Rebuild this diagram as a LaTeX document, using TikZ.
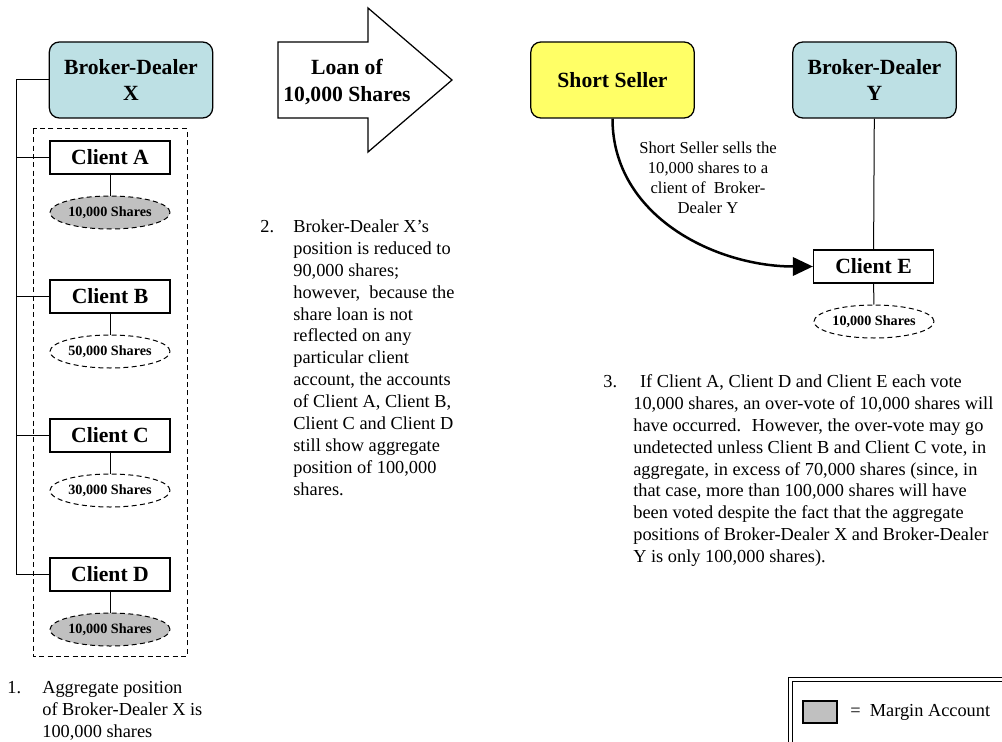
\documentclass[tikz,border=0pt]{standalone}
\usepackage{fontspec}
\setmainfont{Liberation Serif}
\usetikzlibrary{arrows.meta,shapes.geometric}
\definecolor{dealerfill}{RGB}{189,224,228}
\definecolor{sellerfill}{RGB}{255,255,102}
\definecolor{marginfill}{RGB}{192,192,192}
\tikzset{
  dealer/.style={draw, rounded corners=6pt, line width=0.75pt, minimum width=98pt,
    minimum height=45.6pt, inner sep=0pt, align=center,
    font=\fontsize{13}{16}\selectfont\bfseries},
  client/.style={draw, line width=0.75pt, fill=white, minimum width=72pt,
    minimum height=19.8pt, inner sep=0pt, font=\fontsize{13}{16}\selectfont\bfseries},
  shares/.style={draw, ellipse, dash pattern=on 3pt off 2pt, line width=0.6pt,
    minimum width=72pt, minimum height=19.8pt, inner sep=0pt,
    font=\fontsize{8.5}{10}\selectfont\bfseries},
  link/.style={line width=0.6pt},
  sell/.style={line width=1.5pt, -{Triangle[length=12pt,width=11pt]}},
  note/.style={anchor=north west, inner sep=0pt, align=left,
    font=\fontsize{11}{13.15}\selectfont},
  num/.style={anchor=base west, inner sep=0pt, font=\fontsize{11}{13.15}\selectfont},
}
\begin{document}
\begin{tikzpicture}[x=0.6pt, y=-0.6pt]
\useasboundingbox (0,0) rectangle (1002,742);
% Broker-Dealer X and its clients
\draw[dash pattern=on 3pt off 2pt, line width=0.6pt] (33,129) rectangle (187,656);
\node[dealer, fill=dealerfill] (bdx) at (131,80) {Broker-Dealer\\X};
\foreach \c/\y/\s/\f in {A/157.5/10/marginfill, B/296.5/50/white,
    C/435.5/30/white, D/574.5/10/marginfill} {
  \node[client] (client\c) at (110,\y) {Client \c};
  \node[shares, fill=\f] (share\c) at (110,\y+55) {\s,000 Shares};
  \draw[link] (bdx.west) -- ++(-32,0) |- (client\c.west);
  \draw[link] (client\c) -- (share\c);
}
\node[num] (num1) at (7,693) {1.};
\node[note] (note1) at (42,677.7) {\strut Aggregate position\\of Broker-Dealer X is\\100,000 shares};
% the share loan
\draw[line width=0.75pt, fill=white] (278,42) -- (368,42) -- (368,8) -- (452,80)
  -- (368,152) -- (368,118) -- (278,118) -- cycle;
\node[align=center, font=\fontsize{13}{16.5}\selectfont\bfseries] (loan) at (347,82) {Loan of\\10,000 Shares};
\node[num] (num2) at (260,232) {2.};
\node[note] (note2) at (293,216.7) {\strut Broker-Dealer X's\\position is reduced to\\90,000 shares;\\however, \ because the\\share loan is not\\reflected on any\\particular client\\account, the accounts\\of Client A, Client B,\\Client C and Client D\\still show aggregate\\position of 100,000\\shares.};
% Short Seller and Broker-Dealer Y
\node[dealer, fill=sellerfill] (seller) at (612.5,80) {Short Seller};
\node[dealer, fill=dealerfill] (bdy) at (874.5,80) {Broker-Dealer\\Y};
\node[client] (clientE) at (873.5,266.5) {Client E};
\node[shares, fill=white] (shareE) at (874,321.5) {10,000 Shares};
\draw[link] (bdy) -- (clientE);
\draw[link] (clientE) -- (shareE);
\draw[sell] (seller.south) to[out=-90, in=180] (clientE.west);
\node[align=center, font=\fontsize{10}{12}\selectfont] (selltext) at (708,178) {Short Seller sells the\\10,000 shares to a\\client of \ Broker-\\Dealer Y};
\node[num] (num3) at (603,387) {3.};
\node[note] (note3) at (633,371.7) {\strut\hspace*{4pt}If Client A, Client D and Client E each vote\\10,000 shares, an over-vote of 10,000 shares will\\have occurred. \ However, the over-vote may go\\undetected unless Client B and Client C vote, in\\aggregate, in excess of 70,000 shares (since, in\\that case, more than 100,000 shares will have\\been voted despite the fact that the aggregate\\positions of Broker-Dealer X and Broker-Dealer\\Y is only 100,000 shares).};
% legend
\draw[line width=0.6pt, double, double distance=1.8pt] (790,679) rectangle (1030,770);
\node[draw, fill=marginfill, line width=0.75pt, minimum width=20.4pt, minimum height=13.2pt, inner sep=0pt] (swatch) at (820,712) {};
\node[num, anchor=west] (legend) at (850,712) {= \ Margin Account};
\end{tikzpicture}
\end{document}
